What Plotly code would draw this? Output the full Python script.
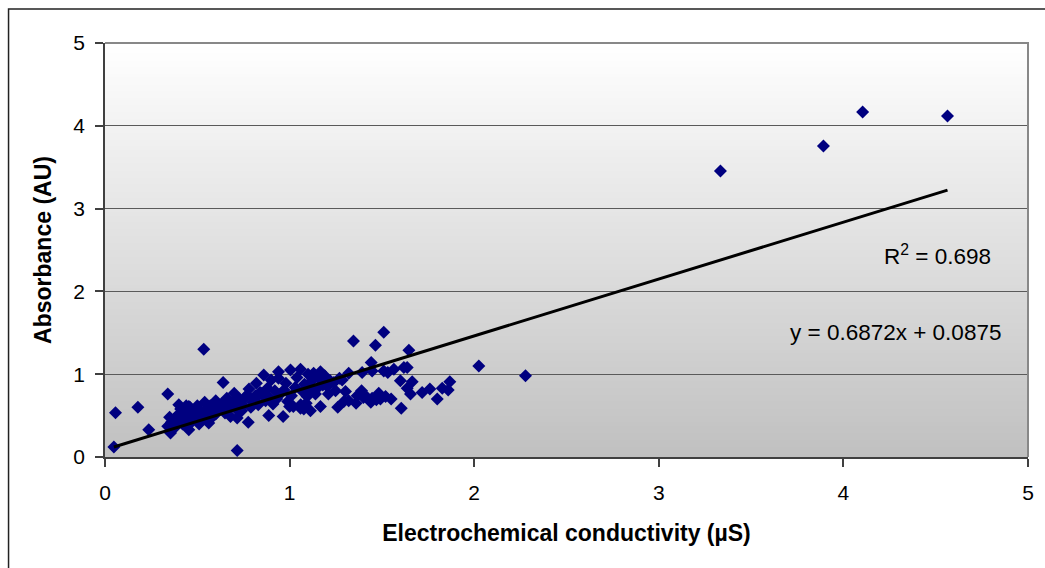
import numpy as np
import plotly.graph_objects as go

# ---- data ----
cond = [
    0.048, 0.057, 0.178, 0.237, 0.535, 0.716, 2.025, 2.278, 3.334, 3.892, 4.104, 4.564,
    0.36, 0.38, 0.40, 0.40, 0.41, 0.42, 0.43, 0.44, 0.45, 0.46, 0.47, 0.48, 0.49, 0.50, 0.50,
    0.51, 0.52, 0.53, 0.54, 0.55, 0.55, 0.56, 0.57, 0.58, 0.59, 0.60, 0.60, 0.38, 0.45, 0.35,
    0.44, 0.52, 0.58, 0.34, 0.355, 0.454, 0.562, 0.40, 0.454, 0.34,
    0.62, 0.63, 0.64, 0.65, 0.66, 0.67, 0.68, 0.69, 0.70, 0.71, 0.716, 0.72, 0.73, 0.734, 0.74,
    0.75, 0.76, 0.77, 0.776, 0.78, 0.79, 0.80, 0.81, 0.815, 0.82, 0.824, 0.83, 0.84, 0.85, 0.86,
    0.87, 0.88, 0.887, 0.89, 0.90, 0.91, 0.92, 0.93, 0.94, 0.94, 0.95, 0.965, 0.97, 0.98, 0.99,
    1.00, 1.005, 1.01,
    1.02, 1.03, 1.04, 1.059, 1.059, 1.06, 1.07, 1.077, 1.08, 1.09, 1.095, 1.10, 1.104, 1.113,
    1.12, 1.13, 1.14, 1.15, 1.158, 1.167, 1.167, 1.18, 1.19, 1.204, 1.21, 1.22, 1.24, 1.249,
    1.261, 1.27, 1.285, 1.294, 1.303, 1.32, 1.32,
    1.346, 1.366, 1.393, 1.40, 1.42, 1.44, 1.442, 1.447, 1.447, 1.465, 1.47, 1.483, 1.492, 1.51,
    1.51, 1.52, 1.532, 1.55, 1.565, 1.60, 1.605, 1.619, 1.637, 1.637, 1.646, 1.655, 1.664, 1.718,
    1.76, 1.80, 1.827, 1.859, 1.868, 1.36, 1.39,
]
absorb = [
    0.12, 0.535, 0.60, 0.33, 1.30, 0.08, 1.10, 0.98, 3.454, 3.756, 4.167, 4.118,
    0.42, 0.47, 0.52, 0.45, 0.58, 0.40, 0.50, 0.55, 0.47, 0.60, 0.43, 0.52, 0.57, 0.48, 0.62,
    0.40, 0.54, 0.50, 0.66, 0.45, 0.58, 0.52, 0.62, 0.48, 0.56, 0.68, 0.52, 0.36, 0.38, 0.48,
    0.62, 0.44, 0.60, 0.37, 0.29, 0.33, 0.41, 0.63, 0.61, 0.76,
    0.57, 0.64, 0.90, 0.53, 0.71, 0.60, 0.49, 0.66, 0.77, 0.58, 0.47, 0.63, 0.70, 0.67, 0.56,
    0.62, 0.72, 0.75, 0.42, 0.82, 0.60, 0.66, 0.70, 0.74, 0.89, 0.73, 0.63, 0.78, 0.77, 0.99,
    0.68, 0.83, 0.50, 0.72, 0.93, 0.64, 0.80, 0.70, 1.03, 0.95, 0.76, 0.49, 0.81, 0.89, 0.67,
    0.61, 1.05, 0.74,
    0.61, 0.84, 0.96, 1.06, 0.59, 0.63, 0.79, 0.58, 0.88, 0.65, 0.73, 1.00, 0.81, 0.56,
    0.92, 1.01, 0.76, 0.83, 0.95, 1.03, 0.61, 0.87, 0.98, 0.85, 0.76, 0.92, 0.90, 0.80,
    0.60, 0.95, 0.93, 0.67, 0.79, 1.01, 0.68,
    1.40, 0.74, 1.02, 0.72, 0.72, 0.66, 1.14, 0.71, 1.04, 1.35, 0.69, 0.77, 0.70, 1.506,
    1.04, 0.73, 1.02, 0.70, 1.06, 0.92, 0.59, 1.08, 1.08, 0.83, 1.29, 0.76, 0.91, 0.78,
    0.82, 0.70, 0.83, 0.81, 0.91, 0.65, 0.80,
]
slope, intercept, r2 = 0.6872, 0.0875, 0.698
x_ticks = [0, 1, 2, 3, 4, 5]
y_ticks = [0, 1, 2, 3, 4, 5]

FONT = "Liberation Sans, Arial, sans-serif"

fig = go.Figure()

# gradient plot background (white at top to silver at bottom)
nb = 120
for i in range(nb):
    t = (i + 0.5) / nb  # 0 bottom .. 1 top
    v = int(round(192 + (255 - 192) * t))
    fig.add_shape(type="rect", xref="x domain", yref="y domain",
                  x0=0, x1=1, y0=i / nb, y1=(i + 1) / nb + 0.002,
                  fillcolor=f"rgb({v},{v},{v})", line=dict(width=0), layer="below")

fig.add_trace(go.Scatter(
    x=cond, y=absorb, mode="markers",
    marker=dict(symbol="diamond", size=10, color="#000080", line=dict(width=0)),
    showlegend=False, hoverinfo="x+y"))

xl = np.array([min(cond), max(cond)])
fig.add_trace(go.Scatter(
    x=xl, y=slope * xl + intercept, mode="lines",
    line=dict(color="black", width=3), showlegend=False, hoverinfo="skip"))

fig.add_annotation(x=4.51, y=2.44, xref="x", yref="y", showarrow=False,
                   text=f"R<sup>2</sup> = {r2}", font=dict(size=22.5, color="black", family=FONT))
fig.add_annotation(x=4.28, y=1.50, xref="x", yref="y", showarrow=False,
                   text=f"y = {slope}x + {intercept}", font=dict(size=22.5, color="black", family=FONT))

# outer chart frame
fig.add_shape(type="rect", xref="paper", yref="paper",
              x0=-0.1045, x1=1.03, y0=-0.3, y1=1.082,
              line=dict(color="#222222", width=1.5), fillcolor="rgba(0,0,0,0)", layer="above")
# top/right grey border of plot area
fig.add_shape(type="path", xref="x domain", yref="y domain",
              path="M 0,1 L 1,1 L 1,0", line=dict(color="#888888", width=2), layer="above")

fig.update_layout(
    width=1045, height=568,
    margin=dict(l=104.5, r=17, t=43, b=111),
    paper_bgcolor="white", plot_bgcolor="white",
    font=dict(family=FONT, size=21, color="black"),
    showlegend=False,
)
fig.update_xaxes(
    range=[0, 5], tickvals=x_ticks, ticktext=[str(v) for v in x_ticks],
    showgrid=False, zeroline=False, showline=True, linecolor="#404040", linewidth=1.5,
    ticks="outside", ticklen=8, tickcolor="#404040", tickwidth=1.5,
    tickfont=dict(size=21), ticklabelstandoff=8,
    title=dict(text="<b>Electrochemical conductivity (µS)</b>", font=dict(size=23), standoff=22),
)
fig.update_yaxes(
    range=[0, 5], tickvals=y_ticks, ticktext=[str(v) for v in y_ticks],
    showgrid=True, gridcolor="#5a5a5a", gridwidth=1.2, zeroline=False,
    showline=True, linecolor="#404040", linewidth=1.5,
    ticks="outside", ticklen=8, tickcolor="#404040", tickwidth=1.5,
    tickfont=dict(size=21), ticklabelstandoff=6,
    title=dict(text="<b>Absorbance (AU)</b>", font=dict(size=23), standoff=15),
)

fig.write_html("out.html")
